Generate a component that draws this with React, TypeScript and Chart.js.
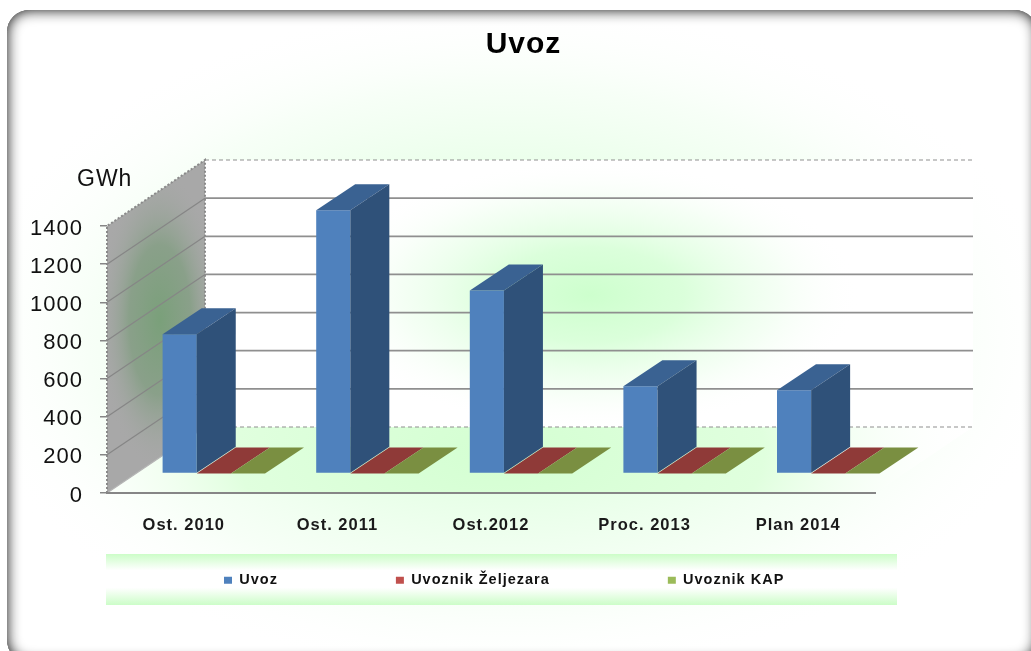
import React, { useEffect, useRef } from "react";
import { Chart, registerables } from "chart.js";

Chart.register(...registerables);

const titleText = "Uvoz";
const unitText = "GWh";
const categories = ["Ost. 2010", "Ost. 2011", "Ost.2012", "Proc. 2013", "Plan 2014"];
const uvoz = [730, 1380, 960, 458, 437];
const uvoznikZeljezara = [0, 0, 0, 0, 0];
const uvoznikKap = [0, 0, 0, 0, 0];
const seriesNames = ["Uvoz", "Uvoznik Željezara", "Uvoznik KAP"];
const yMax = 1400;
const yStep = 200;

const FONT = "'Liberation Sans', Arial, sans-serif";
const W = 1031;
const H = 651;
// oblique projection: full floor depth, bar start depth, bar thickness
const WALL_DX = 98;
const WALL_DY = -66;
const BAR_DX = 30;
const BAR_DY = -19.5;
const BAR_DEPTH_DX = 39;
const BAR_DEPTH_DY = -26;

function poly(ctx: CanvasRenderingContext2D, pts: number[][]) {
  ctx.beginPath();
  pts.forEach((p, i) => (i ? ctx.lineTo(p[0], p[1]) : ctx.moveTo(p[0], p[1])));
  ctx.closePath();
}

function glow(
  ctx: CanvasRenderingContext2D,
  cx: number,
  cy: number,
  rx: number,
  ry: number,
  stops: [number, string][]
) {
  ctx.save();
  ctx.translate(cx, cy);
  ctx.scale(rx, ry);
  const g = ctx.createRadialGradient(0, 0, 0, 0, 0, 1);
  stops.forEach(([o, c]) => g.addColorStop(o, c));
  ctx.fillStyle = g;
  ctx.fillRect(-1, -1, 2, 2);
  ctx.restore();
}

const scene3d = {
  id: "scene3d",
  beforeUpdate(chart: any) {
    chart.ctx.letterSpacing = "1px";
  },
  afterLayout(chart: any) {
    const t = chart.titleBlock;
    t.left = 0;
    t.right = 1047;
    const l = chart.legend;
    l.left = 106;
    l.right = W;
    l.top = 455;
    l.bottom = H;
  },
  beforeDraw(chart: any) {
    const ctx: CanvasRenderingContext2D = chart.ctx;
    ctx.letterSpacing = "1px";
    const { left, right, top, bottom } = chart.chartArea;
    const y = chart.scales.y;

    // card
    ctx.save();
    ctx.fillStyle = "#ffffff";
    ctx.fillRect(0, 0, W, H);
    ctx.beginPath();
    ctx.roundRect(7, 10, 1030, 652, 22);
    ctx.clip();
    glow(ctx, 510, 340, 560, 340, [
      [0, "rgba(215,255,215,1)"],
      [0.45, "rgba(228,255,228,0.9)"],
      [0.75, "rgba(244,255,244,0.75)"],
      [1, "rgba(255,255,255,0)"],
    ]);
    ctx.restore();

    // card inner shadow
    ctx.save();
    ctx.beginPath();
    ctx.roundRect(7, 10, 1030, 652, 22);
    ctx.clip();
    ctx.shadowColor = "rgba(0,0,0,0.95)";
    ctx.shadowBlur = 14;
    ctx.fillStyle = "#000000";
    ctx.beginPath();
    ctx.rect(-60, -60, W + 120, H + 120);
    ctx.roundRect(7, 10, 1030, 652, 22);
    ctx.fill("evenodd");
    ctx.restore();

    // legend band
    const band = ctx.createLinearGradient(0, 554, 0, 605);
    band.addColorStop(0, "#ccfdc8");
    band.addColorStop(0.32, "#ffffff");
    band.addColorStop(0.66, "#ffffff");
    band.addColorStop(1, "#ccfdc8");
    ctx.fillStyle = band;
    ctx.fillRect(106, 554, 791, 51);

    // back wall
    const bl = left + WALL_DX;
    const br = right + WALL_DX;
    const bt = top + WALL_DY;
    const bb = bottom + WALL_DY;
    ctx.save();
    ctx.beginPath();
    ctx.rect(bl, bt, br - bl, bb - bt);
    ctx.clip();
    ctx.fillStyle = "#ffffff";
    ctx.fillRect(bl, bt, br - bl, bb - bt);
    glow(ctx, 590, 295, 270, 135, [
      [0, "rgba(205,255,205,1)"],
      [0.35, "rgba(215,255,215,0.9)"],
      [0.7, "rgba(238,255,238,0.6)"],
      [1, "rgba(255,255,255,0)"],
    ]);
    ctx.restore();

    // floor
    const floorPts = [
      [left, bottom],
      [bl, bb],
      [br, bb],
      [right, bottom],
    ];
    ctx.save();
    poly(ctx, floorPts);
    ctx.clip();
    ctx.fillStyle = "#ffffff";
    ctx.fillRect(left, bb, br - left, bottom - bb);
    glow(ctx, 500, 450, 480, 240, [
      [0, "rgba(212,255,210,1)"],
      [0.55, "rgba(224,255,222,1)"],
      [1, "rgba(255,255,255,0)"],
    ]);
    ctx.restore();

    // left wall
    const leftPts = [
      [left, top],
      [bl, bt],
      [bl, bb],
      [left, bottom],
    ];
    ctx.save();
    poly(ctx, leftPts);
    ctx.clip();
    ctx.fillStyle = "#a8a8a8";
    ctx.fillRect(left, bt, WALL_DX, bottom - bt);
    glow(ctx, 160, 320, 62, 150, [
      [0, "rgba(122,160,122,1)"],
      [0.5, "rgba(130,158,130,0.8)"],
      [1, "rgba(168,168,168,0)"],
    ]);
    ctx.restore();

    // gridlines on the walls
    y.ticks.forEach((t: any) => {
      const py = y.getPixelForValue(t.value);
      const edge = t.value === 0 || t.value === yMax;
      ctx.strokeStyle = "#8f8f8f";
      ctx.lineWidth = edge ? 1 : 1.8;
      ctx.setLineDash(edge ? [4, 3] : []);
      ctx.beginPath();
      ctx.moveTo(bl, py + WALL_DY);
      ctx.lineTo(br, py + WALL_DY);
      ctx.stroke();
      ctx.setLineDash([]);
      if (!edge) {
        ctx.lineWidth = 1.2;
        ctx.strokeStyle = "#868686";
        ctx.beginPath();
        ctx.moveTo(left, py);
        ctx.lineTo(bl, py + WALL_DY);
        ctx.stroke();
      }
    });

    // dotted edges of the left wall
    ctx.strokeStyle = "#8a8a8a";
    ctx.lineWidth = 2;
    ctx.setLineDash([2, 2]);
    ctx.beginPath();
    ctx.moveTo(left, bottom);
    ctx.lineTo(left, top);
    ctx.lineTo(bl, bt);
    ctx.lineTo(bl, bb);
    ctx.stroke();
    ctx.setLineDash([]);
    ctx.lineWidth = 1.2;
    ctx.strokeStyle = "#b5b5b5";
    ctx.beginPath();
    ctx.moveTo(left, bottom);
    ctx.lineTo(bl, bb);
    ctx.stroke();
  },
  beforeDatasetsDraw(chart: any) {
    const ctx: CanvasRenderingContext2D = chart.ctx;
    ctx.save();
    ctx.translate(BAR_DX, BAR_DY);
  },
  afterDatasetsDraw(chart: any) {
    const ctx: CanvasRenderingContext2D = chart.ctx;
    chart.data.datasets.forEach((ds: any, i: number) => {
      chart.getDatasetMeta(i).data.forEach((el: any) => {
        const { x, y, base, width } = el.getProps(["x", "y", "base", "width"], true);
        const l = x - width / 2;
        const r = x + width / 2;
        ctx.fillStyle = ds.topColor;
        poly(ctx, [
          [l, y],
          [l + BAR_DEPTH_DX, y + BAR_DEPTH_DY],
          [r + BAR_DEPTH_DX, y + BAR_DEPTH_DY],
          [r, y],
        ]);
        ctx.fill();
        ctx.fillStyle = ds.sideColor;
        poly(ctx, [
          [r, y],
          [r + BAR_DEPTH_DX, y + BAR_DEPTH_DY],
          [r + BAR_DEPTH_DX, base + BAR_DEPTH_DY],
          [r, base],
        ]);
        ctx.fill();
      });
    });
    ctx.restore();
  },
  afterDraw(chart: any) {
    const ctx: CanvasRenderingContext2D = chart.ctx;
    ctx.save();
    ctx.font = `23px ${FONT}`;
    ctx.fillStyle = "#111111";
    ctx.textAlign = "left";
    ctx.textBaseline = "middle";
    ctx.fillText(unitText, 77, 180);
    ctx.restore();
  },
};

export default function App() {
  const ref = useRef<HTMLCanvasElement>(null);
  useEffect(() => {
    const chart = new Chart(ref.current as HTMLCanvasElement, {
      type: "bar",
      data: {
        labels: categories,
        datasets: [
          { label: seriesNames[0], data: uvoz, backgroundColor: "#4f81bd", sideColor: "#2f5179", topColor: "#3a6292" },
          { label: seriesNames[1], data: uvoznikZeljezara, backgroundColor: "#c0504d", sideColor: "#8f3a38", topColor: "#8f3a38" },
          { label: seriesNames[2], data: uvoznikKap, backgroundColor: "#9bbb59", sideColor: "#7a8f41", topColor: "#7a8f41" },
        ] as any,
      },
      options: {
        responsive: false,
        animation: false,
        layout: { padding: { left: 0, right: 156, top: 0, bottom: 0 } },
        datasets: { bar: { categoryPercentage: 2 / 3, barPercentage: 1, clip: false as any, borderWidth: 0 } },
        plugins: {
          tooltip: { enabled: false },
          title: {
            display: true,
            text: titleText,
            color: "#000000",
            font: { family: FONT, size: 30, weight: "bold" },
            padding: { top: 27, bottom: 163 },
          },
          legend: {
            display: true,
            position: "bottom",
            align: "start",
            maxHeight: 98,
            labels: {
              boxWidth: 8,
              boxHeight: 7,
              padding: 118,
              color: "#111111",
              font: { family: FONT, size: 14.5, weight: "bold" },
            },
          },
        },
        scales: {
          x: {
            afterFit: (s: any) => {
              s.height = 60;
            },
            grid: { display: false },
            border: { display: true, color: "#868686", width: 2 },
            ticks: {
              maxRotation: 0,
              autoSkip: false,
              padding: 15,
              color: "#1a1a1a",
              font: { family: FONT, size: 16.5, weight: "bold" },
            },
          },
          y: {
            min: 0,
            max: yMax,
            afterFit: (s: any) => {
              s.width = 107;
            },
            border: { display: false },
            grid: { drawOnChartArea: false, drawTicks: true, tickLength: 7, color: "#868686", lineWidth: 1.5 },
            ticks: {
              stepSize: yStep,
              padding: 17,
              labelOffset: 2.5,
              color: "#111111",
              font: { family: FONT, size: 22 },
              callback: (v: any) => String(v),
            },
          },
        },
      },
      plugins: [scene3d],
    } as any);
    return () => chart.destroy();
  }, []);
  return (
    <canvas
      ref={ref}
      width={W}
      height={H}
      style={{ position: "absolute", left: 0, top: 0, display: "block", filter: "blur(0.4px)" }}
    />
  );
}
